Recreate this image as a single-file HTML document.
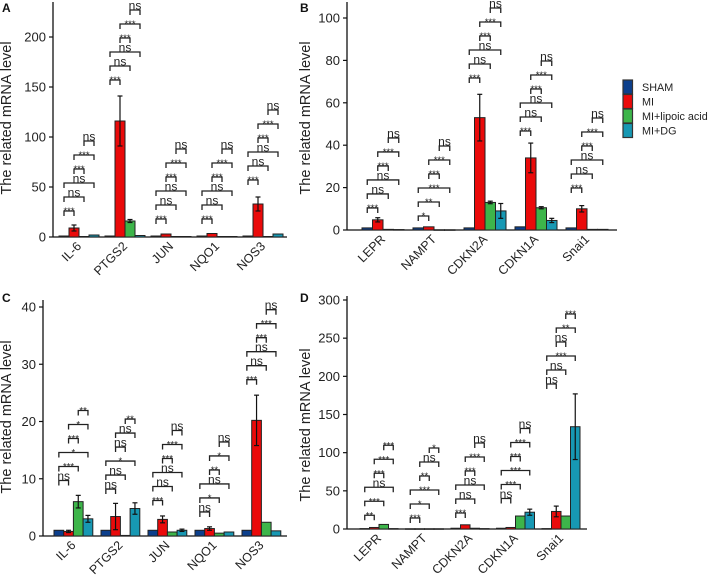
<!DOCTYPE html>
<html><head><meta charset="utf-8">
<style>
html,body{margin:0;padding:0;background:#fff;}
svg{display:block;font-family:"Liberation Sans",Arial,sans-serif;}
</style></head>
<body>
<svg id="chart" width="708" height="583" viewBox="0 0 708 583" xmlns="http://www.w3.org/2000/svg"></svg>
<script>
// ---- Panel A data ----
const catsA = ["IL-6","PTGS2","JUN","NQO1","NOS3"];
const shamA = [1,1,1,1,1];
const miA = [9,116,3,3.5,33];
const lipA = [0.5,16,0.5,0.5,0.5];
const dgA = [2,1.5,0.5,0.5,3];
const miErrA = [3,25,1,1,7];
const lipErrA = [0.3,1.5,0.2,0.2,0.2];
const dgErrA = [0.5,0.5,0.2,0.2,1];
const ticksA = [0,50,100,150,200];
const brBaseA = [26,157,18,18,57];
const sigA = [["***","ns","ns","***","***","ns"],["***","ns","ns","***","***","ns"],["***","ns","ns","***","***","ns"],["***","ns","ns","***","***","ns"],["***","ns","ns","***","***","ns"]];
// ---- Panel B data ----
const catsB = ["LEPR","NAMPT","CDKN2A","CDKN1A","Snai1"];
const shamB = [1,1,1,1.5,1];
const miB = [4.8,1.5,53,34,10];
const lipB = [0.3,0.1,13,10.5,0.3];
const dgB = [0.2,0.1,9,4.5,0.3];
const miErrB = [1,0.4,11,7,1.5];
const lipErrB = [0.1,0.05,0.6,0.5,0.1];
const dgErrB = [0.1,0.05,3.5,1,0.1];
const ticksB = [0,20,40,60,80,100];
const brBaseB = [10.4,6.6,71.7,46.7,19.8];
const sigB = [["***","ns","ns","***","***","ns"],["*","**","***","***","***","ns"],["***","ns","ns","***","***","ns"],["***","ns","ns","***","***","ns"],["***","ns","ns","***","***","ns"]];
// ---- Panel C data ----
const catsC = ["IL-6","PTGS2","JUN","NQO1","NOS3"];
const shamC = [1,1,1,1,1];
const miC = [0.8,3.4,2.9,1.3,20.2];
const lipC = [6,0.1,0.7,0.5,2.4];
const dgC = [3,4.8,1,0.7,0.9];
const miErrC = [0.2,2.3,0.6,0.3,4.4];
const lipErrC = [1.1,0.05,0.1,0.1,0.15];
const dgErrC = [0.6,1,0.2,0.15,0.15];
const ticksC = [0,10,20,30,40];
const brBaseC = [9.7,8.2,6.2,4.2,27.3];
const sigC = [["ns","***","*","***","*","**"],["ns","ns","*","ns","ns","**"],["***","ns","ns","***","***","ns"],["ns","*","ns","**","*","ns"],["***","ns","ns","***","***","ns"]];
// ---- Panel D data ----
const catsD = ["LEPR","NAMPT","CDKN2A","CDKN1A","Snai1"];
const shamD = [0.5,0.3,1,1,0.5];
const miD = [2,0.3,5.5,2,23];
const lipD = [6,0.3,1,17,17];
const dgD = [0.5,0.3,0.5,22,134];
const miErrD = [0.5,0.1,1.2,0.5,7];
const lipErrD = [0.5,0.1,0.2,1,1];
const dgErrD = [0.1,0.1,0.1,4,43];
const ticksD = [0,50,100,150,200,250,300];
const brBaseD = [18,14.4,21,40,190];
const sigD = [["**","***","ns","***","***","***"],["***","*","***","**","ns","*"],["***","ns","ns","***","***","ns"],["ns","***","***","***","***","ns"],["ns","ns","***","ns","**","***"]];

const legendLabels = ["SHAM","MI","MI+lipoic acid","MI+DG"];
const colors = ["#0c3f8c","#ea0a0a","#3db54a","#1798b3"];
const pairs = [[0,1],[0,2],[0,3],[1,2],[1,3],[2,3]];

const NS = "http://www.w3.org/2000/svg";
const svg = document.getElementById('chart');
function mk(tag, attrs, parent){
  const e = document.createElementNS(NS, tag);
  for (const k in attrs) e.setAttribute(k, attrs[k]);
  (parent||svg).appendChild(e);
  return e;
}

function panel(o){
  const g = mk('g',{});
  
  
  const y = v => o.y0 - v * (o.y0 - o.yTop) / o.yMax;
  const ax = mk('line',{x1:o.ax,y1:o.axTop,x2:o.ax,y2:o.y0,stroke:'#111','stroke-width':1.3},g);
  
  
  const xa = mk('line',{x1:o.ax,y1:o.y0,x2:o.axEnd,y2:o.y0,stroke:'#111','stroke-width':1.3},g);
  
  
  o.ticks.forEach(t=>{
    mk('line',{x1:o.ax-4,y1:y(t),x2:o.ax,y2:y(t),stroke:'#111','stroke-width':1.2},g);
    const tl = mk('text',{x:o.ax-7,y:y(t)+4.5,'text-anchor':'end','font-size':13,fill:'#222'},g);
    tl.textContent = t;
    
    
  });
  const tt = mk('text',{x:0,y:0,'text-anchor':'middle','font-size':14.5,fill:'#222',transform:`translate(${o.titleX},${o.titleY}) rotate(-90)`},g);
  tt.textContent = 'The related mRNA level';
  
  
  const lt = mk('text',{x:o.letterX,y:o.letterY,'font-size':12,'font-weight':'bold',fill:'#111'},g);
  lt.textContent = o.letter;
  
  
  const series = [o.sham,o.mi,o.lip,o.dg];
  const errs = [null,o.miErr,o.lipErr,o.dgErr];
  o.cats.forEach((c,i)=>{
    const gx = o.start + i*o.step;
    const cx = [];
    for (let s=0;s<4;s++){
      const x = gx + s*o.bw;
      cx.push(x + o.bw/2);
      const v = series[s][i];
      const r = mk('rect',{x:x,y:y(v),width:o.bw,height:Math.max(0.5,o.y0-y(v)),fill:colors[s],stroke:'#222','stroke-width':1},g);
      
      
      const e = errs[s] ? errs[s][i] : 0.1*v;
      if (e*(o.y0-o.yTop)/o.yMax > 1){
        mk('line',{x1:x+o.bw/2,y1:y(v+e),x2:x+o.bw/2,y2:y(Math.max(0,v-e)),stroke:'#111','stroke-width':1.2},g);
        mk('line',{x1:x+o.bw/2-2.5,y1:y(v+e),x2:x+o.bw/2+2.5,y2:y(v+e),stroke:'#111','stroke-width':1.2},g);
        mk('line',{x1:x+o.bw/2-2.5,y1:y(Math.max(0,v-e)),x2:x+o.bw/2+2.5,y2:y(Math.max(0,v-e)),stroke:'#111','stroke-width':1.2},g);
      }
    }
    const lx = gx + 2*o.bw + 3, ly = o.y0 + 10;
    const cl = mk('text',{x:0,y:0,'text-anchor':'end','font-size':12.5,fill:'#222',transform:`translate(${lx},${ly}) rotate(-45)`},g);
    cl.textContent = c;
    
    
    const base = y(o.brBase[i]);
    pairs.forEach((p,k)=>{
      const by = base - k*14;
      const x1 = cx[p[0]], x2 = cx[p[1]];
      mk('path',{d:`M${x1},${by+5}V${by}H${x2}V${by+5}`,fill:'none',stroke:'#222','stroke-width':1.3},g);
      const lab = o.sig[i][k];
      const isNs = lab==='ns';
      const bt = mk('text',{x:(x1+x2)/2,y:isNs?by-0.5:by+3,'text-anchor':'middle','font-size':isNs?12:9.5,fill:'#222'},g);
      bt.textContent = lab;
      
      
    });
  });
}

panel({letter:'A',letterX:2,letterY:12,cats:catsA,sham:shamA,mi:miA,lip:lipA,dg:dgA,miErr:miErrA,lipErr:lipErrA,dgErr:dgErrA,
  ticks:ticksA,brBase:brBaseA,sig:sigA,ax:53,axTop:2,axEnd:287,y0:237,yTop:37,yMax:200,start:59,step:46,bw:10,titleX:11,titleY:118});
panel({letter:'B',letterX:300,letterY:12,cats:catsB,sham:shamB,mi:miB,lip:lipB,dg:dgB,miErr:miErrB,lipErr:lipErrB,dgErr:dgErrB,
  ticks:ticksB,brBase:brBaseB,sig:sigB,ax:347,axTop:2,axEnd:617,y0:230,yTop:18,yMax:100,start:362,step:51,bw:10.5,titleX:310,titleY:118});
panel({letter:'C',letterX:2,letterY:302,cats:catsC,sham:shamC,mi:miC,lip:lipC,dg:dgC,miErr:miErrC,lipErr:lipErrC,dgErr:dgErrC,
  ticks:ticksC,brBase:brBaseC,sig:sigC,ax:43,axTop:300,axEnd:287,y0:536,yTop:307,yMax:40,start:54,step:47,bw:9.7,titleX:11,titleY:417});
panel({letter:'D',letterX:300,letterY:302,cats:catsD,sham:shamD,mi:miD,lip:lipD,dg:dgD,miErr:miErrD,lipErr:lipErrD,dgErr:dgErrD,
  ticks:ticksD,brBase:brBaseD,sig:sigD,ax:347,axTop:296,axEnd:587,y0:529,yTop:300,yMax:300,start:360,step:45.5,bw:9.5,titleX:310,titleY:425});

const lg = mk('g',{});


legendLabels.forEach((l,i)=>{
  const yy = 80 + i*14.5;
  const r = mk('rect',{x:623,y:yy,width:9.5,height:14,fill:colors[i],stroke:'#333','stroke-width':1.2},lg);
  
  
  const t = mk('text',{x:642,y:yy+11,'font-size':10.8,fill:'#222'},lg);
  t.textContent = l;
  
  
});
</script>
</body></html>
